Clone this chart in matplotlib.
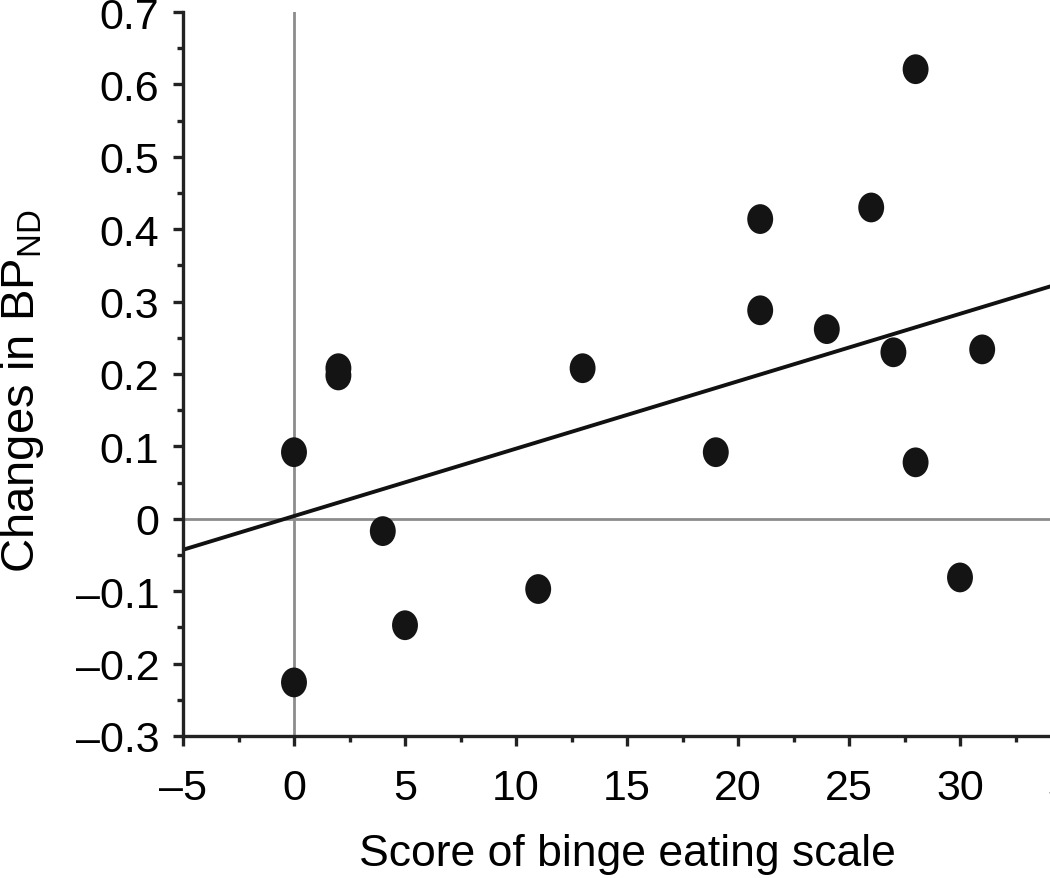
import numpy as np
import matplotlib
matplotlib.use("Agg")
from matplotlib import pyplot as plt
from matplotlib.path import Path
from matplotlib.ticker import MultipleLocator

plt.rcParams['font.family'] = ['Liberation Sans', 'DejaVu Sans']
plt.rcParams['mathtext.fontset'] = 'custom'
plt.rcParams['mathtext.rm'] = 'Liberation Sans'

# binge eating scale score vs change in BPND
bes_score = [0, 0, 2, 2, 4, 5, 11, 13, 19, 21, 21, 24, 26, 27, 28, 28, 30, 31]
bp_change = [0.092, -0.226, 0.208, 0.198, -0.017, -0.147, -0.097, 0.208, 0.092,
             0.414, 0.288, 0.262, 0.430, 0.230, 0.621, 0.078, -0.081, 0.234]
x_ticks = [-5, 0, 5, 10, 15, 20, 25, 30, 35]
y_ticks = [-0.3, -0.2, -0.1, 0, 0.1, 0.2, 0.3, 0.4, 0.5, 0.6, 0.7]

fig = plt.figure(figsize=(10.5, 8.79), dpi=100)
# axes runs past the right edge, like the cropped original
ax = fig.add_axes([183 / 1050, 142 / 879, 888 / 1050, 724 / 879])

ax.axvline(0, color='#8c8c8c', lw=2, zorder=1)
ax.axhline(0, color='#8c8c8c', lw=2, zorder=1)

slope, icpt = np.polyfit(bes_score, bp_change, 1)
xl = np.array([x_ticks[0], x_ticks[-1]])
ax.plot(xl, icpt + slope * xl, color='#111111', lw=2.8, zorder=2)

circ = Path.unit_circle()
oval = Path(circ.vertices * [1.0, 1.15], circ.codes)
ax.scatter(bes_score, bp_change, marker=oval, s=460, color='#141414',
           edgecolors='none', zorder=3)

ax.set_xlim(x_ticks[0], x_ticks[-1])
ax.set_ylim(y_ticks[0], y_ticks[-1])
ax.set_xticks(x_ticks)
ax.set_yticks(y_ticks)
ax.set_yticklabels([('%.1f' % v).replace('-', '\u2013') if v != 0 else '0' for v in y_ticks])
ax.set_xticklabels([str(v).replace('-', '\u2013') for v in x_ticks])
ax.xaxis.set_minor_locator(MultipleLocator(2.5))
ax.yaxis.set_minor_locator(MultipleLocator(0.05))

for s in ['top', 'right']:
    ax.spines[s].set_visible(False)
for s in ['left', 'bottom']:
    ax.spines[s].set_linewidth(2.4)
    ax.spines[s].set_color('#222222')

ax.tick_params(which='major', length=7, width=2.4, color='#222222', labelsize=31)
ax.tick_params(which='minor', length=4, width=2.4, color='#222222')
ax.tick_params(axis='x', which='major', pad=16)
ax.tick_params(axis='y', which='major', pad=10)

ax.set_xlabel('Score of binge eating scale', fontsize=32, labelpad=18)
ax.set_ylabel(r'Changes in BP$_{\mathrm{ND}}$', fontsize=34)
ax.yaxis.set_label_coords(-0.154, 0.478)

fig.savefig('out.png', dpi=100)
